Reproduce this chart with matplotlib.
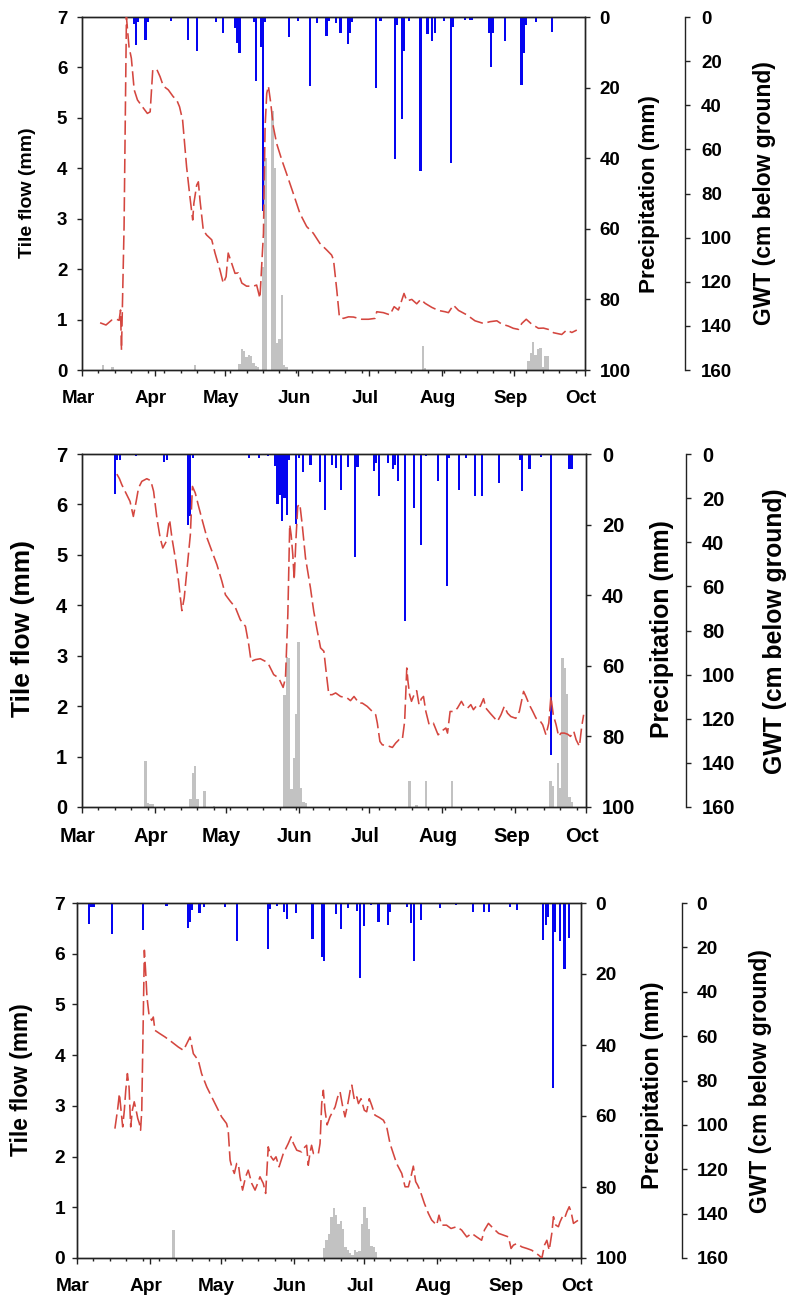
import matplotlib
matplotlib.use("Agg")
import matplotlib.pyplot as plt
import matplotlib.transforms as mtransforms

plt.rcParams['font.family'] = ['Liberation Sans', 'DejaVu Sans']
plt.rcParams['font.weight'] = 'bold'

# ---------------- axes / labels ----------------
MONTH_DAYS = [0, 31, 61, 92, 122, 153, 184, 214]      # days since 1 March
MONTH_LABELS = ['Mar', 'Apr', 'May', 'Jun', 'Jul', 'Aug', 'Sep', 'Oct']
FLOW_TICKS = [0, 1, 2, 3, 4, 5, 6, 7]
RAIN_TICKS = [0, 20, 40, 60, 80, 100]
GWT_TICKS = [0, 20, 40, 60, 80, 100, 120, 140, 160]
FLOW_LABEL = 'Tile flow (mm)'
RAIN_LABEL = 'Precipitation (mm)'
GWT_LABEL = 'GWT (cm below ground)'

# ---------------- panel 1 ----------------
P1_RAIN_DAY = [22, 23, 24, 27, 28, 38, 45, 49, 57, 60, 65, 66, 67, 73, 74, 76, 77, 78, 88, 92,
               97, 100, 104, 105, 108, 110, 113, 114, 115, 125, 127, 133, 134, 136, 137, 139,
               144, 147, 149, 150, 154, 157, 158, 163, 165, 166, 173, 174, 175, 180, 187, 188,
               189, 193, 200]
P1_RAIN_MM = [2, 8, 1.5, 6.5, 1.5, 1, 6.5, 9.5, 1.5, 4.5, 3, 7.4, 10.3, 1.5, 18, 8.4, 55, 1.5, 5.6, 1,
              19.5, 1.8, 5.4, 1, 1.8, 4.6, 7.6, 4.4, 1.5, 20, 1, 40.3, 2.3, 29, 9.5, 1,
              43.7, 4.8, 6.7, 4.5, 1, 41.5, 2.7, 0.8, 0.8, 0.8, 4.6, 14.3, 4.6, 6.7, 19.4, 10.1,
              2.3, 1.5, 4.2]
P1_FLOW_DAY = [9, 13, 48, 67, 68, 69, 70, 71, 72, 73, 74, 75, 77, 78, 81, 82, 83, 84, 85, 86, 87,
               145, 146, 190, 191, 192, 193, 194, 195, 196, 197, 198]
P1_FLOW_MM = [0.1, 0.05, 0.1, 0.12, 0.41, 0.37, 0.26, 0.29, 0.28, 0.14, 0.08, 0.05, 2.05, 4.2, 5.13,
              4.0, 0.54, 0.62, 1.49, 0.1, 0.05,
              0.48, 0.03, 0.17, 0.33, 0.55, 0.3, 0.42, 0.43, 0.05, 0.27, 0.27]
P1_GWT_DAY = [7.7, 10.2, 12.6, 14.7, 15.8, 16.4, 16.8, 17.9, 18.9, 20.0, 21.0, 22.2, 23.6, 25.7,
              27.8, 29.0, 30.1, 31.8, 33.2, 34.6, 36.7, 38.8, 40.3, 41.5, 42.8, 44.5, 45.9, 47.1,
              47.6, 48.8, 49.5, 50.2, 51.6, 53.0, 55.2, 56.6, 58.7, 60.1, 61.3, 62.2, 63.7, 65.1,
              66.5, 68.0, 70.0, 72.9, 74.3, 75.7, 77.2, 77.9, 78.6, 79.3, 80.3, 81.4, 82.8, 85.0,
              87.0, 89.9, 92.7, 95.6, 98.4, 101.2, 104.1, 106.2, 107.0, 108.4, 109.5, 111.2,
              113.4, 115.5, 119.0, 121.9, 124.7, 125.4, 128.2, 131.0, 132.8, 134.6, 135.6, 137.0,
              138.2, 140.3, 142.4, 144.1, 146.0, 148.8, 151.6, 154.5, 155.9, 158.0, 160.2, 163.7,
              167.2, 170.8, 173.6, 176.5, 178.6, 181.4, 183.5, 185.7, 187.1, 189.0, 191.3, 194.2,
              196.3, 198.4, 200.6, 204.1, 206.2, 208.4, 210.5]
P1_GWT_CM = [138.6, 139.6, 137.4, 137.0, 137.5, 132.8, 151.0, 95.0, 0.0, 13.5, 18.7, 33.0, 37.6, 40.7,
             43.7, 43.0, 24.0, 23.7, 27.0, 31.3, 33.0, 36.1, 37.6, 40.7, 46.7, 67.9, 81.4, 92.0,
             84.4, 76.2, 74.7, 83.0, 96.6, 98.8, 101.0, 107.0, 114.7, 120.7, 117.7, 107.0, 111.7, 116.2,
             116.0, 120.6, 122.0, 122.0, 121.5, 127.5, 98.0, 49.7, 34.6, 31.3, 39.0, 49.7, 57.3, 64.8,
             70.9, 80.0, 89.0, 95.0, 98.0, 102.6, 105.6, 107.9, 110.0, 123.8, 135.9, 136.6,
             135.9, 136.0, 137.0, 137.0, 136.6, 133.6, 134.0, 135.0, 131.3, 132.8, 129.8, 125.3,
             128.7, 128.0, 130.0, 128.0, 129.8, 131.6, 133.0, 133.6, 134.0, 130.6, 133.0, 135.0,
             137.7, 138.9, 138.1, 137.7, 139.2, 140.1, 141.1, 141.6, 138.9, 137.0, 139.2, 141.1,
             141.0, 141.6, 143.1, 143.9, 141.9, 143.0, 141.9]

# ---------------- panel 2 ----------------
P2_RAIN_DAY = [14, 15, 16, 23, 35, 36, 40, 45, 46, 47, 71, 75, 79, 82, 83, 84, 85, 86, 87, 88, 91,
               92, 94, 97, 101, 103, 106, 108, 110, 113, 116, 117, 124, 125, 126, 130, 132, 133,
               134, 137, 141, 144, 146, 151, 155, 156, 160, 163, 167, 170, 177, 186, 187, 190,
               195, 199, 207, 208]
P2_RAIN_MM = [11.3, 1.6, 1.6, 0.7, 2.3, 1.6, 0.4, 20, 17.7, 1, 1.1, 1, 0.7, 3.5, 14.2, 11.5, 18.9,
              12.5, 17.2, 1.7, 19.7, 1, 5, 3, 7.8, 15.9, 3, 4, 10.3, 3.8, 29.3, 3.8, 4.9, 2.5, 12,
              2.5, 4.2, 3, 7.6, 47.2, 15.3, 25.7, 0.5, 7.6, 37.5, 1, 10.1, 1.2, 12, 12, 8.2, 1.6,
              10.6, 4.2, 0.8, 85.2, 4.2, 4.2]
P2_FLOW_DAY = [27, 28, 29, 30, 46, 47, 48, 49, 52, 56, 86, 87, 88, 89, 90, 91, 92, 93, 94, 95,
               139, 142, 146, 157, 199, 200, 202, 203, 204, 205, 206, 207, 208]
P2_FLOW_MM = [0.91, 0.07, 0.06, 0.05, 0.15, 0.67, 0.81, 0.15, 0.31, 0.02, 2.23, 2.97, 2.96, 0.35,
              0.98, 1.85, 3.28, 0.38, 0.1, 0.08,
              0.51, 0.03, 0.51, 0.51, 0.52, 0.41, 0.87, 0.38, 2.95, 2.75, 2.25, 0.2, 0.1]
P2_GWT_DAY = [14.8, 15.9, 16.9, 18.3, 20.4, 21.8, 23.0, 24.0, 25.4, 27.5, 29.2, 30.4, 31.8, 33.2,
              34.3, 35.8, 36.7, 37.2, 38.2, 39.6, 41.0, 42.4, 43.4, 44.5, 46.0, 46.9, 48.1, 49.5,
              51.0, 53.1, 55.2, 57.3, 59.4, 60.9, 63.0, 65.1, 67.2, 69.4, 70.8, 71.8, 73.6, 75.7,
              77.9, 79.3, 81.4, 83.5, 85.4, 86.4, 87.4, 88.2, 88.8, 89.5, 90.1, 90.8, 91.6, 92.5,
              93.5, 94.9, 97.0, 98.4, 99.8, 101.3, 102.7, 103.8, 104.8, 106.2, 107.7, 109.8, 112.6,
              114.0, 115.5, 117.6, 119.0, 121.1, 123.3, 124.7, 125.4, 126.5, 127.5, 129.6, 131.8,
              133.2, 134.6, 136.0, 137.0, 137.9, 138.4, 139.1, 139.9, 141.0, 142.1, 143.1, 144.1,
              145.0, 146.0, 147.4, 149.2, 151.2, 152.6, 154.5, 155.2, 156.3, 158.0, 159.4, 161.1,
              162.3, 163.7, 165.1, 166.2, 167.9, 169.1, 170.5, 171.5, 173.3, 175.0, 176.4, 177.9,
              179.3, 180.7, 182.1, 184.2, 185.7, 187.5, 188.5, 189.9, 191.4, 192.8, 194.2, 195.6,
              197.0, 198.2, 199.1, 200.1, 201.3, 202.4, 203.4, 204.8, 206.2, 207.4, 208.8, 209.8,
              211.2, 212.2, 213.0]
P2_GWT_CM = [9.1, 11.2, 13.9, 16.9, 21.5, 28.3, 21.5, 15.4, 12.4, 11.2, 12.1, 16.9, 29.0, 38.1,
             42.6, 39.6, 32.8, 29.8, 38.1, 47.1, 57.7, 71.0, 65.3, 53.2, 36.6, 14.7, 17.7, 23.7,
             29.8, 38.1, 44.1, 50.2, 57.7, 63.8, 66.8, 69.5, 75.1, 78.1, 86.4, 94.0, 93.2, 92.8,
             94.0, 95.5, 100.0, 101.5, 105.8, 101.5, 72.8, 32.0, 36.6, 45.6, 57.0, 39.6, 23.7, 22.7,
             32.0, 47.1, 60.7, 71.3, 79.6, 87.9, 89.4, 100.0, 109.1, 109.1, 108.3, 109.9, 110.6,
             111.8, 109.9, 112.9, 112.9, 114.4, 116.7, 118.2, 122.0, 130.3, 131.8, 132.2, 133.0,
             131.0, 129.5, 129.5, 121.2, 97.0, 103.0, 109.1, 112.1, 109.1, 107.3, 113.6, 110.9,
             109.9, 116.7, 122.7, 122.0, 127.3, 125.7, 124.2, 126.5, 116.7, 116.7, 115.2, 112.1,
             114.4, 115.2, 113.6, 115.9, 113.6, 114.4, 110.9, 115.2, 117.5, 119.5, 121.2, 118.2,
             114.4, 117.5, 119.0, 119.8, 116.7, 107.6, 109.9, 113.6, 116.7, 119.8, 120.5, 122.7,
             127.3, 122.0, 109.9, 118.2, 122.7, 128.0, 126.5, 126.5, 127.0, 128.0, 125.7, 129.5,
             132.5, 123.4, 118.2]

# ---------------- panel 3 ----------------
P3_RAIN_DAY = [5, 6, 7, 15, 28, 38, 47, 48, 49, 52, 54, 63, 68, 81, 82, 85, 88, 89, 93, 100, 104,
               105, 110, 112, 115, 119, 120, 122, 125, 128, 132, 133, 140, 142, 143, 146, 154, 161,
               168, 173, 175, 184, 187, 198, 199, 200, 202, 203, 205, 207, 209]
P3_RAIN_MM = [5.8, 1.1, 1.1, 8.6, 7.7, 0.8, 7, 5.4, 2, 2.8, 1, 1.2, 10.7, 12.9, 1.8, 0.8, 2.5, 4.4,
              2.8, 10.1, 15.3, 16.2, 3, 7.4, 1.4, 2.3, 21.1, 6.6, 0.7, 5.4, 6.1, 2.5, 1, 5.7, 16.2,
              4.7, 1.4, 0.7, 2.5, 2.5, 2.5, 1, 1.9, 10.5, 6.3, 4, 52, 8.2, 10.7, 18.5, 9.8]
P3_FLOW_DAY = [41, 105, 106, 107, 108, 109, 110, 111, 112, 113, 114, 115, 116, 117, 118, 119, 120,
               121, 122, 123, 124, 125, 126, 127]
P3_FLOW_MM = [0.56, 0.19, 0.35, 0.48, 0.81, 0.98, 0.85, 0.68, 0.73, 0.58, 0.22, 0.16, 0.09, 0.06,
              0.16, 0.12, 0.14, 0.68, 1.01, 0.78, 0.58, 0.24, 0.22, 0.12]
P3_GWT_DAY = [16.1, 17.3, 18.0, 18.5, 19.4, 20.1, 20.7, 21.4, 22.1, 22.8, 23.5, 24.3, 25.1, 25.8,
              26.5, 27.0, 27.5, 28.2, 28.6, 29.2, 29.7, 30.6, 31.7, 32.4, 33.1, 35.2, 37.4, 40.2,
              43.0, 45.2, 46.6, 48.0, 49.4, 51.5, 52.9, 55.1, 57.2, 59.3, 61.4, 63.5, 64.2, 65.0,
              65.7, 66.8, 67.8, 68.5, 69.2, 70.3, 71.6, 72.7, 74.2, 75.6, 76.7, 77.7, 79.1, 80.1,
              80.5, 81.2, 82.4, 83.4, 84.5, 85.8, 87.6, 89.7, 90.9, 91.9, 93.3, 95.4, 96.1, 97.5,
              98.2, 98.9, 99.6, 100.4, 101.1, 102.5, 103.2, 103.9, 104.6, 105.3, 106.2, 107.4,
              109.6, 110.7, 111.7, 112.7, 113.8, 115.0, 116.0, 116.7, 117.8, 118.8, 119.5, 120.6,
              122.0, 123.0, 124.1, 125.1, 126.5, 128.4, 130.1, 131.5, 132.9, 134.3, 135.7, 137.9,
              139.3, 140.7, 141.8, 142.8, 143.8, 144.6, 145.6, 147.5, 149.2, 150.6, 152.7, 153.7,
              154.8, 156.9, 158.8, 161.2, 163.3, 165.5, 167.6, 169.7, 171.8, 173.0, 174.7, 176.8,
              179.0, 181.1, 183.2, 184.3, 185.3, 186.7, 188.9, 191.0, 193.1, 196.0, 197.4, 198.5,
              199.5, 200.5, 201.6, 202.3, 203.3, 204.4, 205.1, 206.1, 207.0, 208.0, 209.0, 209.8,
              210.8, 211.8, 212.9]
P3_GWT_CM = [101.7, 92.6, 85.9, 91.1, 100.9, 93.4, 84.4, 76.9, 82.9, 100.9, 93.4, 89.6, 93.4, 97.1,
             99.4, 102.4, 93.4, 46.8, 21.3, 31.8, 42.3, 50.6, 52.9, 51.4, 57.4, 58.9, 60.4, 62.6,
             64.9, 66.4, 63.4, 60.4, 67.9, 70.9, 76.9, 82.9, 87.4, 91.9, 96.4, 99.4, 102.4, 115.9,
             118.9, 121.9, 117.4, 117.4, 123.4, 129.4, 123.4, 120.4, 126.4, 129.4, 126.4, 123.4, 126.4, 130.9,
             123.4, 109.9, 114.4, 115.9, 114.4, 118.9, 112.9, 108.4, 105.4, 108.4, 111.4, 112.2, 110.7, 109.2,
             118.2, 112.9, 109.2, 112.9, 112.6, 112.9, 108.4, 90.4, 84.4, 93.4, 100.0, 96.4,
             91.9, 87.4, 85.1, 91.1, 96.4, 90.4, 84.4, 82.1, 88.9, 87.4, 90.4, 88.2,
             93.4, 94.1, 88.2, 91.1, 95.6, 96.7, 97.9, 100.9, 108.4, 112.9, 117.4, 121.9,
             127.9, 127.9, 123.4, 118.6, 125.6, 127.1, 129.4, 135.4, 139.9, 142.9, 145.2, 140.7,
             145.2, 145.2, 146.7, 145.9, 147.4, 150.5, 148.9, 150.5, 152.0, 147.4, 144.4, 146.7,
             148.9, 149.7, 150.5, 155.7, 154.2, 153.5, 155.0, 155.7, 156.5, 158.7, 160.0, 154.2,
             152.0, 156.5, 148.9, 141.4, 145.2, 145.9, 143.7, 141.4, 142.2, 139.2, 136.9, 139.2,
             144.4, 143.7, 142.9]

# ---------------- figure ----------------
W, H = 788, 1298
fig = plt.figure(figsize=(W / 100, H / 100), dpi=100)

FLOW_COLOR = '#c2c2c2'
RAIN_COLOR = '#0505f0'
GWT_COLOR = '#d4463f'
SPINE_COLOR = '#222222'


def px_rect(l, t, r, b):
    return [l / W, 1 - b / H, (r - l) / W, (b - t) / H]


def draw_panel(box, gwt_x, tick_fs, lab_fs, lab_pos, ypad,
               rain_d, rain_v, flow_d, flow_v, gwt_d, gwt_v):
    l, t, r, b = box
    ax = fig.add_axes(px_rect(l, t, r, b))
    ax.bar(flow_d, flow_v, width=1.0, color=FLOW_COLOR, linewidth=0, zorder=2)
    ax.set_xlim(MONTH_DAYS[0], MONTH_DAYS[-1])
    ax.set_ylim(FLOW_TICKS[0], FLOW_TICKS[-1])
    ax.set_yticks(FLOW_TICKS)
    ax.set_xticks(MONTH_DAYS)
    ax.set_xticklabels(MONTH_LABELS)
    ax.set_xticks(list(range(0, 215, 7)), minor=True)
    ax.tick_params(axis='x', which='major', direction='out', length=4, width=1,
                   pad=10.5, labelsize=tick_fs, color=SPINE_COLOR)
    ax.tick_params(axis='x', which='minor', direction='out', length=2.5, width=1,
                   color=SPINE_COLOR)
    ax.tick_params(axis='y', direction='out', length=3.6, width=1, pad=ypad[0],
                   labelsize=tick_fs, color=SPINE_COLOR)
    off = mtransforms.ScaledTranslation(-4 / 100, 0, fig.dpi_scale_trans)
    for lab in ax.get_xticklabels():
        lab.set_transform(lab.get_transform() + off)

    ax2 = ax.twinx()
    ax2.bar(rain_d, rain_v, width=0.9, color=RAIN_COLOR, linewidth=0, zorder=2)
    ax2.set_ylim(RAIN_TICKS[-1], RAIN_TICKS[0])
    ax2.set_yticks(RAIN_TICKS)
    ax2.tick_params(axis='y', direction='out', length=3.6, width=1, pad=ypad[1],
                    labelsize=tick_fs, color=SPINE_COLOR)

    ax3 = ax.twinx()
    ax3.plot(gwt_d, gwt_v, color=GWT_COLOR, lw=1.15, ls=(0, (9, 3)), zorder=3)
    ax3.set_ylim(GWT_TICKS[-1], GWT_TICKS[0])
    ax3.set_yticks(GWT_TICKS)
    ax3.spines['right'].set_position(('axes', (gwt_x - l) / (r - l)))
    for s in ('top', 'left', 'bottom'):
        ax3.spines[s].set_visible(False)
    ax3.tick_params(axis='y', direction='out', length=3.6, width=1, pad=ypad[2],
                    labelsize=tick_fs, color=SPINE_COLOR)

    for a in (ax, ax2, ax3):
        for s in a.spines.values():
            s.set_linewidth(1.0)
            s.set_color(SPINE_COLOR)

    texts = (FLOW_LABEL, RAIN_LABEL, GWT_LABEL)
    for txt, fs, (px, py) in zip(texts, lab_fs, lab_pos):
        fig.text(px / W, 1 - py / H, txt, rotation=90, ha='center', va='center',
                 fontsize=fs, fontweight='bold')


draw_panel((82, 17, 585, 370), 685, 13.5, (14.0, 16.2, 16.5),
           ((27, 193), (650, 194), (765, 193)), (7, 7, 8),
           P1_RAIN_DAY, P1_RAIN_MM, P1_FLOW_DAY, P1_FLOW_MM, P1_GWT_DAY, P1_GWT_CM)
draw_panel((82, 454, 586, 807), 686, 14.5, (19.0, 17.9, 17.8),
           ((23, 628), (662, 629), (775, 631)), (7, 8, 8),
           P2_RAIN_DAY, P2_RAIN_MM, P2_FLOW_DAY, P2_FLOW_MM, P2_GWT_DAY, P2_GWT_CM)
draw_panel((77, 903, 581, 1258), 682, 13.8, (16.4, 17.0, 16.5),
           ((22, 1080), (652, 1085), (760, 1081)), (5, 7, 7),
           P3_RAIN_DAY, P3_RAIN_MM, P3_FLOW_DAY, P3_FLOW_MM, P3_GWT_DAY, P3_GWT_CM)

fig.savefig('out.png', dpi=100)
